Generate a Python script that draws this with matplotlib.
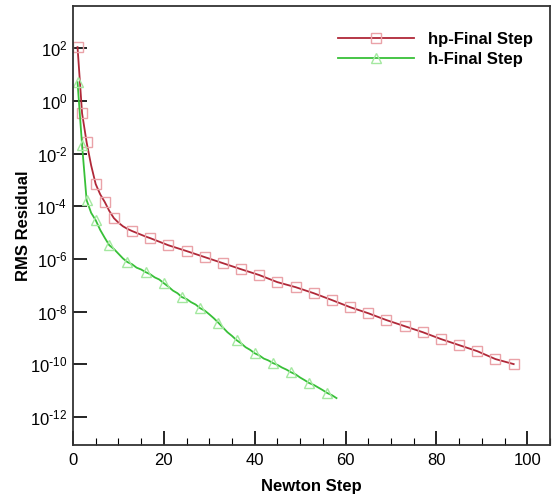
import numpy as np
import matplotlib
matplotlib.use("Agg")
import matplotlib.pyplot as plt
from matplotlib.ticker import MultipleLocator, FixedLocator, NullLocator, FuncFormatter

plt.rcParams['font.family'] = ['Liberation Sans', 'DejaVu Sans']
plt.rcParams['mathtext.default'] = 'regular'
plt.rcParams['axes.unicode_minus'] = False

# hp-Final Step: Newton step and log10(RMS residual)
hp_steps = [1, 2, 3, 4, 5, 6, 7, 8, 9, 10, 11, 12, 13, 14, 15, 16, 17,
            21, 25, 29, 33, 37, 41, 45, 49, 53, 57, 61, 65, 69, 73, 77,
            81, 85, 89, 93, 97]
hp_log_res = [2.04, -0.47, -1.57, -2.45, -3.16, -3.55, -3.84, -4.18, -4.45,
              -4.62, -4.76, -4.86, -4.94, -5.01, -5.08, -5.15, -5.21,
              -5.48, -5.70, -5.93, -6.16, -6.39, -6.61, -6.88, -7.07, -7.30,
              -7.56, -7.83, -8.06, -8.32, -8.55, -8.78, -9.04, -9.27, -9.50,
              -9.80, -9.99]
hp_marker_steps = [1, 2, 3, 5, 7, 9, 13, 17, 21, 25, 29, 33, 37, 41, 45, 49,
                   53, 57, 61, 65, 69, 73, 77, 81, 85, 89, 93, 97]

# h-Final Step
h_steps = [1, 2, 3, 4, 5, 6, 7, 8, 9, 10, 11, 12, 13, 14, 15, 16, 17, 18, 19,
           20, 21, 22, 23, 24, 25, 26, 27, 28, 29, 30, 31, 32, 33, 34, 35, 36,
           37, 38, 39, 40, 41, 42, 43, 44, 45, 46, 47, 48, 49, 50, 51, 52, 53,
           54, 55, 56, 57, 58]
h_log_res = [0.71, -1.68, -3.77, -4.25, -4.53, -4.90, -5.20, -5.48, -5.62,
             -5.80, -5.98, -6.12, -6.20, -6.33, -6.40, -6.50, -6.58, -6.70,
             -6.78, -6.92, -7.05, -7.20, -7.30, -7.45, -7.52, -7.64, -7.73,
             -7.87, -7.96, -8.10, -8.25, -8.42, -8.60, -8.78, -8.92, -9.08,
             -9.20, -9.35, -9.45, -9.58, -9.66, -9.78, -9.85, -9.95, -10.02,
             -10.12, -10.20, -10.30, -10.38, -10.50, -10.60, -10.71, -10.78,
             -10.88, -10.98, -11.09, -11.17, -11.28]
h_marker_steps = [1, 2, 3, 5, 8, 12, 16, 20, 24, 28, 32, 36, 40, 44, 48, 52, 56]

hp_res = 10.0 ** np.array(hp_log_res)
h_res = 10.0 ** np.array(h_log_res)
hp_every = [i for i, s in enumerate(hp_steps) if s in hp_marker_steps]
h_every = [i for i, s in enumerate(h_steps) if s in h_marker_steps]


def pow_label(v, pos):
    e = int(round(np.log10(v)))
    if e < 0:
        return r'$10^{\text{-}%d}$' % (-e)
    return r'$10^{%d}$' % e


fig = plt.figure(figsize=(5.55, 5.0), dpi=100)
ax = fig.add_axes([0.1315, 0.11, 0.8595, 0.878])

ax.plot(hp_steps, hp_res, color='#b02838', lw=1.3, marker='s', ms=6.5,
        mfc='none', mec='#eaa2a8', mew=1.0, markevery=hp_every,
        label='hp-Final Step')
ax.plot(h_steps, h_res, color='#38c038', lw=1.3, marker='^', ms=6.5,
        mfc='none', mec='#a4e8a0', mew=1.0, markevery=h_every,
        label='h-Final Step')

ax.set_yscale('log')
ax.set_xlim(0, 105)
ax.set_ylim(10 ** -13.06, 10 ** 3.6)
ax.yaxis.set_major_locator(FixedLocator([10.0 ** k for k in range(-12, 3, 2)]))
ax.yaxis.set_minor_locator(NullLocator())
ax.yaxis.set_major_formatter(FuncFormatter(pow_label))
ax.xaxis.set_major_locator(MultipleLocator(20))
ax.xaxis.set_minor_locator(MultipleLocator(5))

ax.tick_params(axis='both', which='major', direction='in', length=10,
               width=1.2, labelsize=12)
ax.tick_params(axis='x', which='major', pad=6)
ax.tick_params(axis='y', which='major', pad=4)
ax.tick_params(axis='x', which='minor', direction='in', length=5, width=0.8)
for sp in ax.spines.values():
    sp.set_linewidth(1.3)
    sp.set_color('#333333')

ax.set_xlabel('Newton Step', fontsize=12, fontweight='bold', labelpad=8)
ax.set_ylabel('RMS Residual', fontsize=12, fontweight='bold')
ax.yaxis.set_label_coords(-0.088, 0.5)

leg = ax.legend(loc='upper right', bbox_to_anchor=(0.995, 0.975), frameon=False,
                handlelength=4.6, numpoints=1, labelspacing=0.3,
                prop={'weight': 'bold', 'size': 12})

fig.savefig('out.png', dpi=100)
